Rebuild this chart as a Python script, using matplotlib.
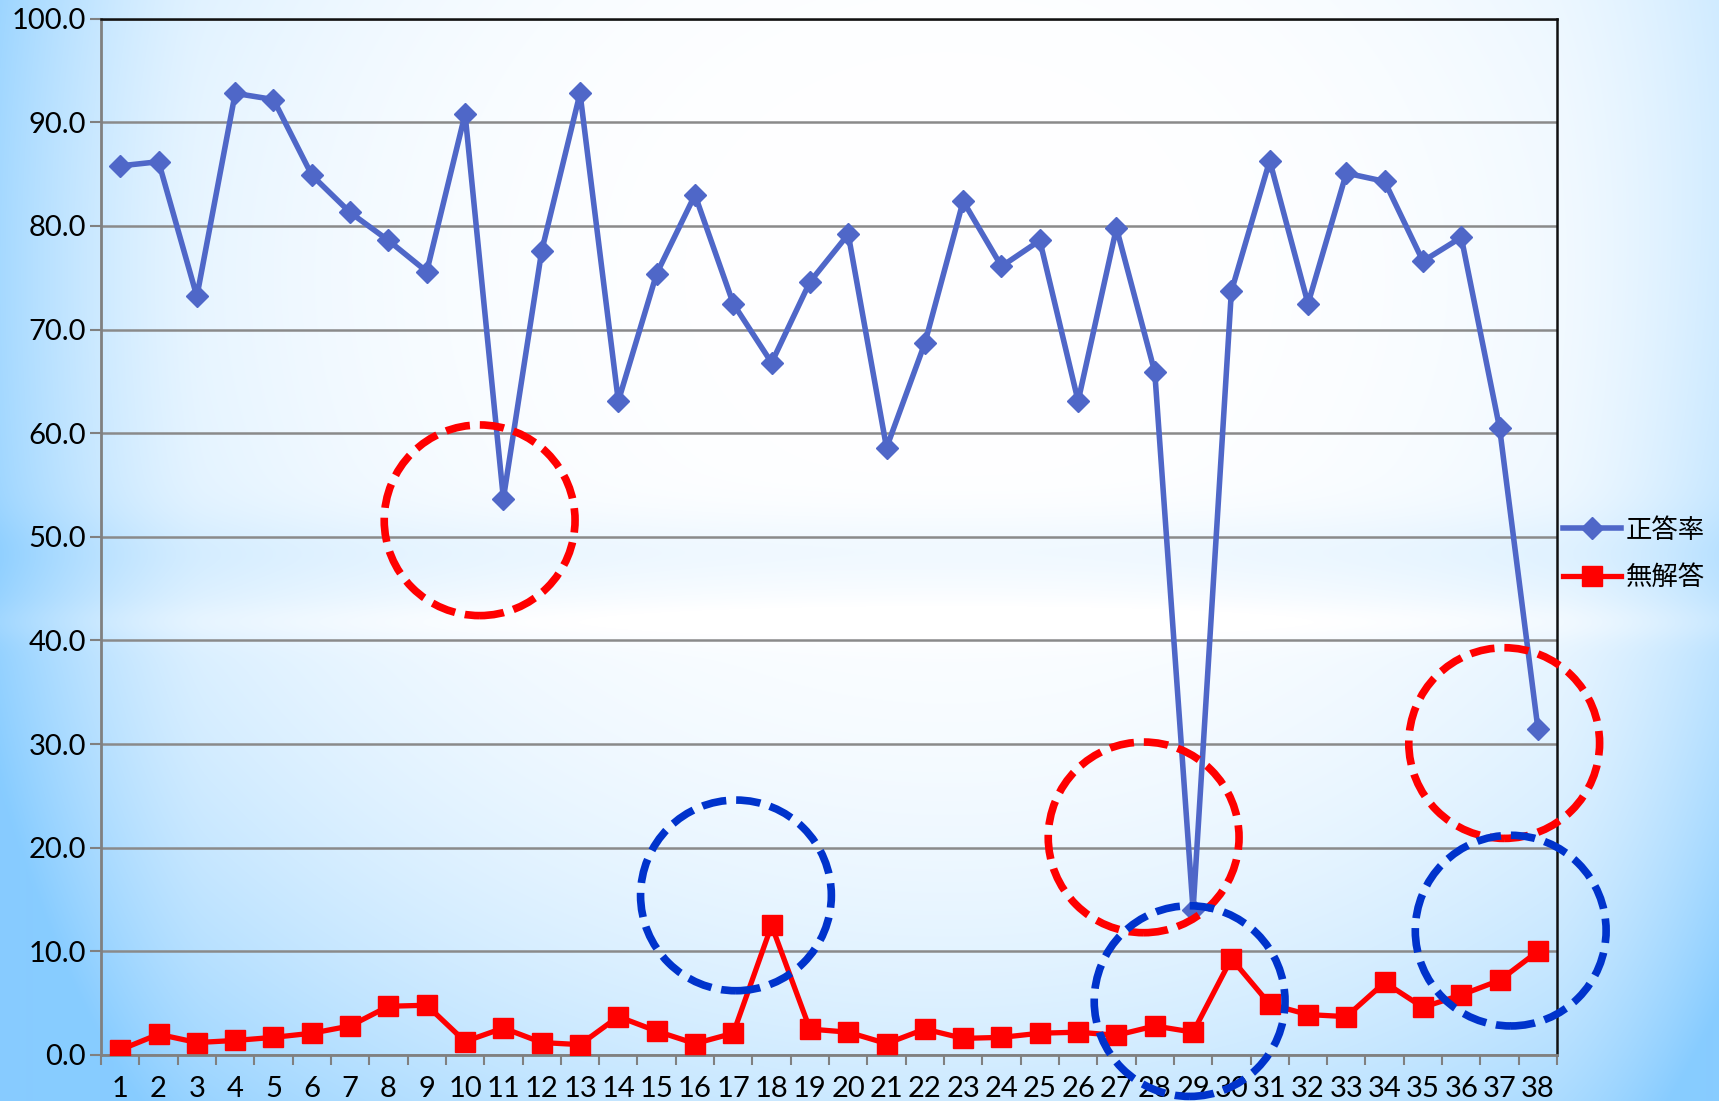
import numpy as np
import matplotlib
matplotlib.use('Agg')
import matplotlib.pyplot as plt
from matplotlib.patches import Ellipse

plt.rcParams['font.family'] = ['Lato', 'Noto Sans CJK JP', 'DejaVu Sans']

# question numbers and rates (%)
questions = list(range(1, 39))
correct_rate = [85.8, 86.2, 73.2, 92.8, 92.2, 84.9, 81.3, 78.6, 75.6, 90.8,
                53.7, 77.6, 92.8, 63.1, 75.4, 83.0, 72.5, 66.8, 74.6, 79.2,
                58.6, 68.7, 82.4, 76.1, 78.6, 63.1, 79.8, 65.9, 14.0, 73.7,
                86.3, 72.5, 85.1, 84.3, 76.6, 78.9, 60.5, 31.5]
no_answer = [0.5, 2.0, 1.2, 1.4, 1.7, 2.1, 2.8, 4.7, 4.8, 1.3,
             2.6, 1.2, 1.0, 3.7, 2.3, 1.1, 2.1, 12.5, 2.5, 2.2,
             1.1, 2.5, 1.6, 1.7, 2.1, 2.2, 1.9, 2.8, 2.2, 9.3,
             4.9, 3.9, 3.7, 7.0, 4.6, 5.8, 7.2, 10.0]
series_names = ['正答率', '無解答']

# dashed rings that mark questions of interest: (x, y, color)
ring_x = [10.38, 17.07, 27.71, 28.91, 37.12, 37.29]
ring_y = [51.6, 15.4, 21.0, 5.2, 30.1, 12.0]
ring_colors = ['#ff0000', '#0033cc', '#ff0000', '#0033cc', '#ff0000', '#0033cc']

W, H = 1719, 1101
fig = plt.figure(figsize=(W / 100, H / 100), dpi=100)

# sky-blue backdrop, white toward the middle
yy, xx = np.mgrid[0:H, 0:W]
u = xx / W
v = yy / H
d = np.sqrt(((u - 0.55) / 0.75) ** 2 + ((v - 0.25) / 1.0) ** 2)
t = np.clip(d, 0, 1) ** 3.0
# left and right edges stay bluer, less so near the top
t = t + 0.35 * np.clip(1 - u / 0.12, 0, 1) ** 1.5
t = t + 0.30 * np.clip((u - 0.90) / 0.10, 0, 1) ** 1.5 * (0.4 + 0.6 * v)
# soft horizontal haze band
band = np.exp(-((v - 0.50) / 0.035) ** 2) * 0.10 - np.exp(-((v - 0.565) / 0.018) ** 2) * 0.08
t = np.clip(t + band, 0, 1)
white = np.array([1.0, 1.0, 1.0])
blue = np.array([0.53, 0.80, 1.0])
bg = white[None, None, :] * (1 - t[..., None]) + blue[None, None, :] * t[..., None]
bg_ax = fig.add_axes([0, 0, 1, 1], zorder=-10)
bg_ax.imshow(bg, aspect='auto', extent=[0, 1, 0, 1], origin='upper')
bg_ax.axis('off')

ax = fig.add_axes([0.0588, 0.0418, 0.847, 0.9412])
ax.patch.set_alpha(0)

ax.plot(questions, correct_rate, color='#4f67c8', lw=4.0, marker='D', ms=11,
        label=series_names[0], zorder=4)
ax.plot(questions, no_answer, color='#ff0000', lw=3.8, marker='s', ms=15,
        label=series_names[1], zorder=4)

ax.set_xlim(0.5, 38.5)
ax.set_ylim(0, 100)
ax.set_yticks(np.arange(0, 101, 10))
ax.set_yticklabels(['%.1f' % y for y in np.arange(0, 101, 10)])
ax.set_xticks(questions)
ax.set_xticklabels([str(q) for q in questions])
ax.set_xticks(np.arange(0.5, 39, 1), minor=True)
ax.tick_params(axis='x', which='major', length=0, pad=15, labelsize=21)
ax.tick_params(axis='x', which='minor', length=7, width=1.5, color='#808080')
ax.tick_params(axis='y', length=8, width=1.5, color='#808080', pad=3, labelsize=21)
ax.grid(axis='y', color='#8a8a8a', lw=1.8, zorder=1)
ax.set_axisbelow(True)

for side in ['left', 'bottom']:
    ax.spines[side].set_color('#808080')
    ax.spines[side].set_linewidth(2)
for side in ['top', 'right']:
    ax.spines[side].set_color('#111111')
    ax.spines[side].set_linewidth(1.8)

# rings: radius ~ 2.5 categories wide, 9.2 % tall keeps them round on screen
for x, y, c in zip(ring_x, ring_y, ring_colors):
    ring = Ellipse((x, y), 4.98, 18.4, fill=False, edgecolor=c, lw=5.5,
                   linestyle=(0, (3.2, 1.3)), clip_on=False, zorder=5)
    ax.add_patch(ring)

fig.legend(loc='center left', bbox_to_anchor=(0.909, 0.497), frameon=False,
           fontsize=19, handlelength=2.2, handletextpad=0.2, labelspacing=0.85,
           borderpad=0, borderaxespad=0)

fig.savefig('out.png', dpi=100)
